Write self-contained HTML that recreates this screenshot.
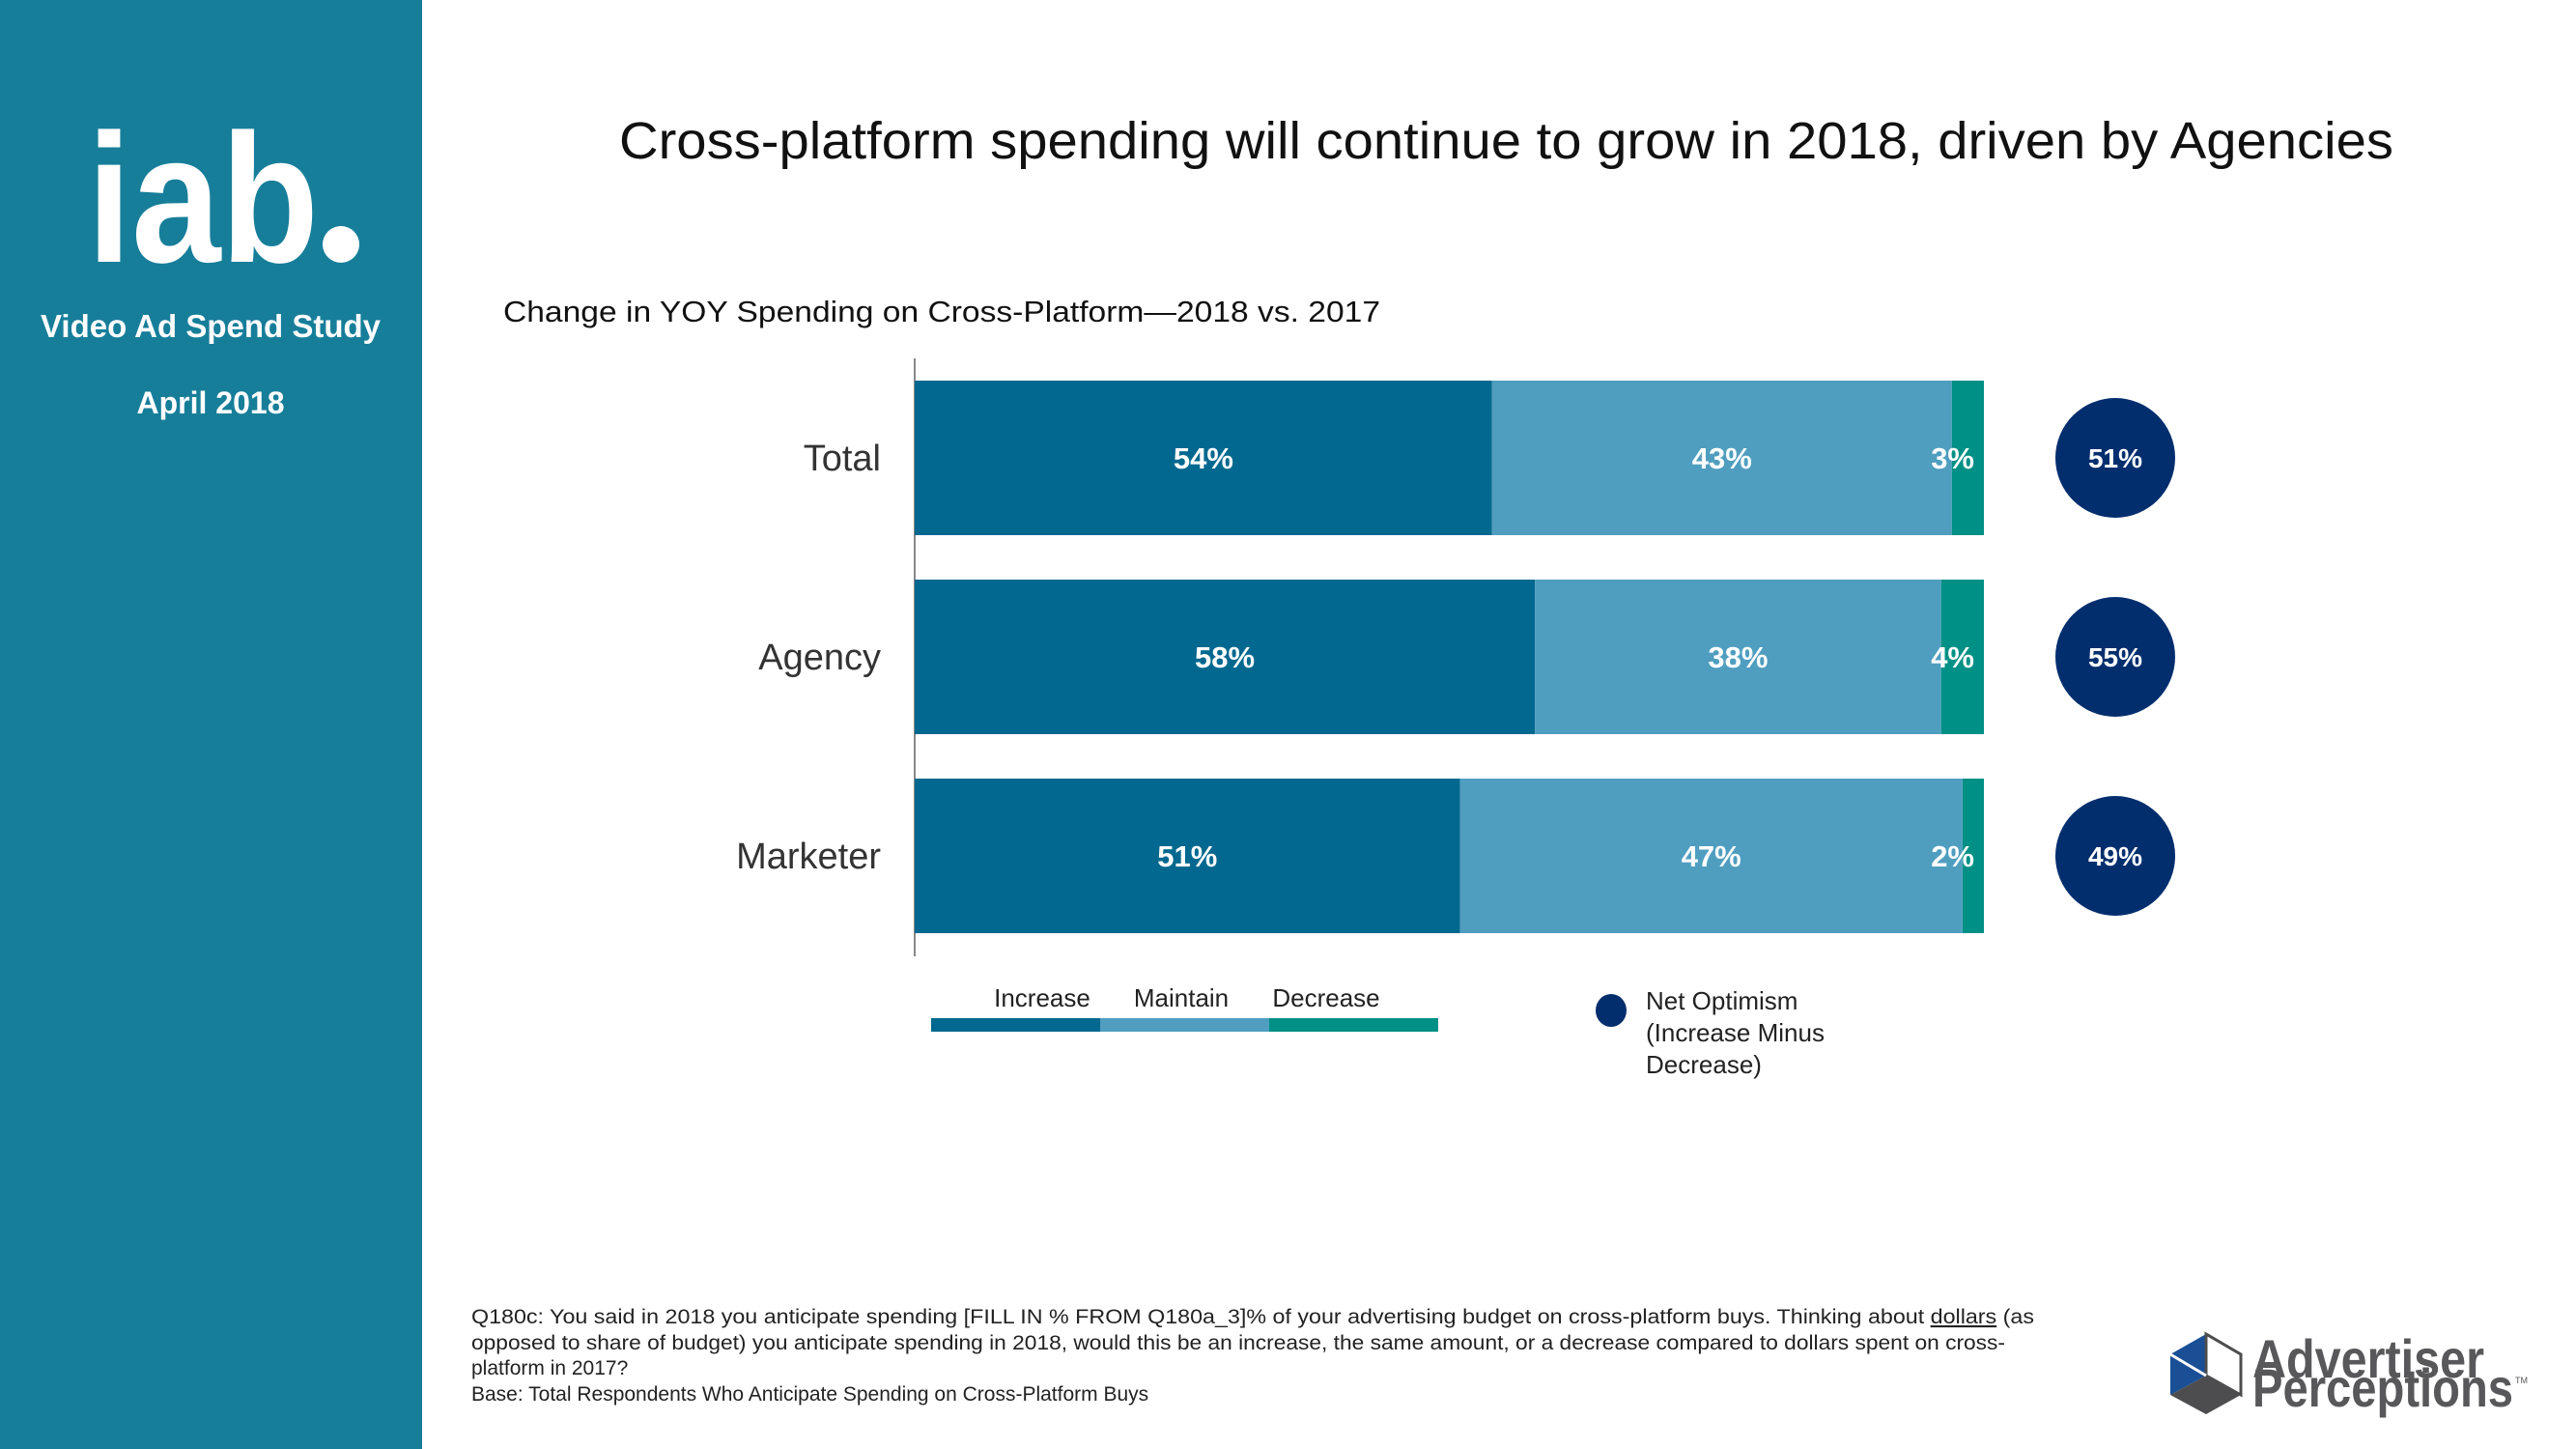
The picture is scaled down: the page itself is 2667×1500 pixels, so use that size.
<!DOCTYPE html>
<html><head><meta charset="utf-8"><style>
html,body{margin:0;padding:0;background:#fff}
svg{display:block;font-family:"Liberation Sans",Arial,sans-serif}
</style></head><body>
<svg id="chart" width="2667" height="1500" viewBox="0 0 2667 1500">
<rect x="0" y="0" width="437" height="1500" fill="#177e9a"/>
<g fill="#fff">
  <text x="90" y="271" font-size="190" font-weight="bold" textLength="240" lengthAdjust="spacingAndGlyphs">iab</text>
  <circle cx="353" cy="253" r="19"/>
</g>
<text x="218" y="349" text-anchor="middle" fill="#fff" font-size="33" font-weight="bold">Video Ad Spend Study</text>
<text x="218" y="428" text-anchor="middle" fill="#fff" font-size="32" font-weight="bold">April 2018</text>
<text x="641" y="164" font-size="54" fill="#111" textLength="1837" lengthAdjust="spacingAndGlyphs">Cross-platform spending will continue to grow in 2018, driven by Agencies</text>
<text x="521" y="333" font-size="31" fill="#111" textLength="908" lengthAdjust="spacingAndGlyphs">Change in YOY Spending on Cross-Platform—2018 vs. 2017</text>
<line x1="947" y1="371" x2="947" y2="990" stroke="#888" stroke-width="2"/>
<g id="bars"></g>
<g>
  <rect x="964" y="1054" width="175" height="14" fill="#03688f"/>
  <rect x="1139" y="1054" width="175" height="14" fill="#4f9ec0"/>
  <rect x="1314" y="1054" width="175" height="14" fill="#009085"/>
  <text x="1079" y="1042" text-anchor="middle" font-size="26" fill="#222">Increase</text>
  <text x="1223" y="1042" text-anchor="middle" font-size="26" fill="#222">Maintain</text>
  <text x="1373" y="1042" text-anchor="middle" font-size="26" fill="#222">Decrease</text>
  <ellipse cx="1668" cy="1046" rx="16" ry="17" fill="#032e6e"/>
  <text font-size="26" fill="#222"><tspan x="1704" y="1045">Net Optimism</tspan><tspan x="1704" y="1078">(Increase Minus</tspan><tspan x="1704" y="1111">Decrease)</tspan></text>
</g>
<text font-size="21" fill="#222">
<tspan x="488" y="1370" textLength="1618" lengthAdjust="spacingAndGlyphs">Q180c: You said in 2018 you anticipate spending [FILL IN % FROM Q180a_3]% of your advertising budget on cross-platform buys.   Thinking about <tspan text-decoration="underline">dollars</tspan> (as</tspan>
<tspan x="488" y="1397" textLength="1588" lengthAdjust="spacingAndGlyphs">opposed to share of budget) you anticipate spending in 2018, would this be an increase, the same amount, or a decrease compared to dollars spent on cross-</tspan>
<tspan x="488" y="1423">platform in 2017?</tspan>
<tspan x="488" y="1450">Base: Total Respondents Who Anticipate Spending on Cross-Platform Buys</tspan>
</text>
<g>
  <polygon points="2284,1381 2247,1402 2247,1444 2284,1424" fill="#1a4f96"/>
  <polygon points="2247,1444 2284,1464 2320,1444 2284,1424" fill="#4d4d4f"/>
  <polygon points="2284,1381 2320,1402 2320,1444 2284,1424" fill="#fff" stroke="#4d4d4f" stroke-width="3"/>
  <line x1="2247" y1="1402" x2="2284" y2="1424" stroke="#fff" stroke-width="3"/>
  <text x="2332" y="1426" font-size="56" font-weight="bold" fill="#58585a" textLength="240" lengthAdjust="spacingAndGlyphs">Advertiser</text>
  <text x="2332" y="1456" font-size="56" font-weight="bold" fill="#58585a" textLength="270" lengthAdjust="spacingAndGlyphs">Perceptions</text>
  <text x="2604" y="1432" font-size="9" fill="#58585a">TM</text>
</g>
</svg>
<script>
const categories = ["Total", "Agency", "Marketer"];
const increaseVals = [54, 58, 51];
const maintainVals = [43, 38, 47];
const decreaseVals = [3, 4, 2];
const netVals = [51, 55, 49];
const NS = "http://www.w3.org/2000/svg";
const x0 = 947, plotW = 1107;
const xScale = v => x0 + v / 100 * plotW;
const bandTop = 394, bandStep = 206, barH = 160;
const yScale = i => bandTop + i * bandStep;
const g = document.getElementById("bars");
function mk(tag, attrs) { const e = document.createElementNS(NS, tag); for (const k in attrs) e.setAttribute(k, attrs[k]); g.appendChild(e); return e; }
const colors = ["#03688f", "#4f9ec0", "#009085"];
const series = [increaseVals, maintainVals, decreaseVals];
const sNames = ["increase", "maintain", "decrease"];
categories.forEach((cat, i) => {
  const y = yScale(i);
  const lab = mk("text", {x: 912, y: y + barH / 2 + 13, "text-anchor": "end", "font-size": 38, fill: "#333"});
  lab.textContent = cat;
  
  
  let acc = 0;
  series.forEach((s, k) => {
    const v = s[i];
    const r = mk("rect", {x: xScale(acc), y: y, width: xScale(acc + v) - xScale(acc), height: barH, fill: colors[k]});
    
    
    let cx = (xScale(acc) + xScale(acc + v)) / 2;
    let anchor = "middle";
    if (k === 2) { cx = xScale(100) - 10; anchor = "end"; }
    const t = mk("text", {x: cx, y: y + barH / 2 + 11, "text-anchor": anchor, "font-size": 31, "font-weight": "bold", fill: "#fff"});
    t.textContent = v + "%";
    
    
    acc += v;
  });
  const c = mk("circle", {cx: 2190, cy: y + barH / 2, r: 62, fill: "#032e6e"});
  
  
  const ct = mk("text", {x: 2190, y: y + barH / 2 + 10, "text-anchor": "middle", "font-size": 28, "font-weight": "bold", fill: "#fff"});
  ct.textContent = netVals[i] + "%";
  
  
});
</script>
</body></html>
